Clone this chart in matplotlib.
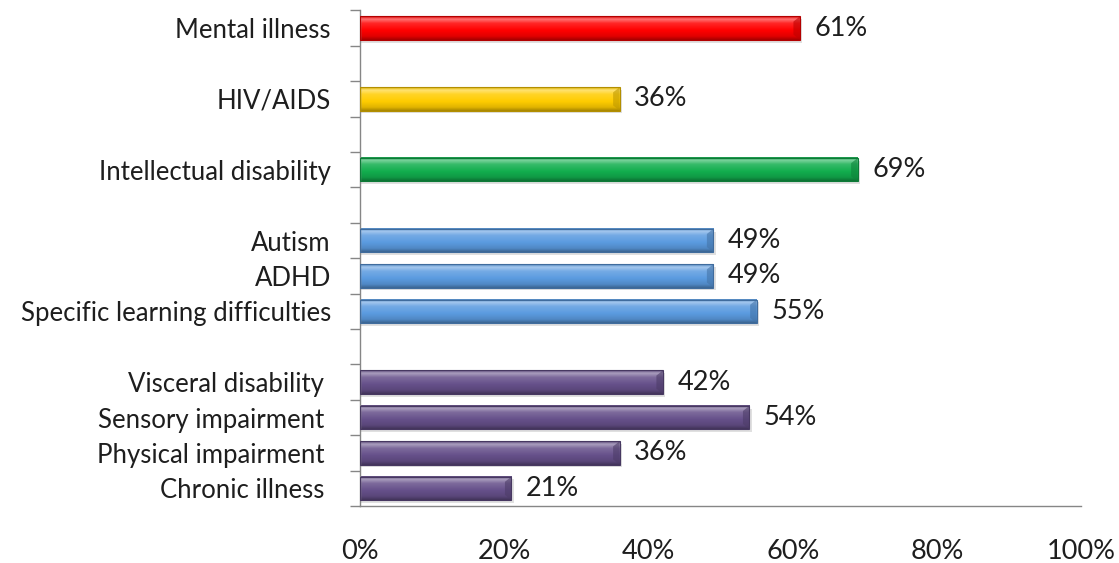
import numpy as np
import matplotlib
matplotlib.use('Agg')
import matplotlib.pyplot as plt
from matplotlib.colors import LinearSegmentedColormap, to_rgb
from matplotlib.patches import Polygon

plt.rcParams['font.family'] = ['Lato', 'DejaVu Sans']

# groups, top to bottom; an empty slot sits between groups
group_labels = [
    ['Mental illness'],
    ['HIV/AIDS'],
    ['Intellectual disability'],
    ['Autism', 'ADHD', 'Specific learning difficulties'],
    ['Visceral disability ', 'Sensory impairment ', 'Physical impairment ', 'Chronic illness '],
]
group_values = [
    [61],
    [36],
    [69],
    [49, 49, 55],
    [42, 54, 36, 21],
]
group_colors = ['#FF0000', '#FFCC00', '#12AE4E', '#5B9BE0', '#66508A']
tick_text = ['0%', '20%', '40%', '60%', '80%', '100%']


def mix(c, other, t):
    c = np.array(to_rgb(c))
    return tuple(c + (np.array(other) - c) * t)


def bar_cmap(c):
    # vertical bevel: dark rim, light highlight near top, darker bottom
    stops = [
        (0.00, mix(c, (0, 0, 0), 0.15)),
        (0.12, mix(c, (1, 1, 1), 0.45)),
        (0.30, mix(c, (1, 1, 1), 0.15)),
        (0.60, c),
        (0.85, mix(c, (0, 0, 0), 0.12)),
        (1.00, mix(c, (0, 0, 0), 0.35)),
    ]
    return LinearSegmentedColormap.from_list('bev', stops)


labels, values, colors, slots = [], [], [], []
pos = 0
for i, (lab, val) in enumerate(zip(group_labels, group_values)):
    if i > 0:
        pos += 1
    for l, v in zip(lab, val):
        labels.append(l)
        values.append(v)
        colors.append(group_colors[i])
        slots.append(pos)
        pos += 1
n_slots = pos

fig = plt.figure(figsize=(11.19, 5.63), dpi=100)
ax = fig.add_axes([0.3217, 0.1012, 0.6445, 0.8803])

h = 0.66
grad = np.linspace(0, 1, 64).reshape(-1, 1)
for y, v, c in zip(slots, values, colors):
    # soft shadow
    ax.barh(y + 0.08, v + 0.3, height=h, left=0, color='#000000', alpha=0.12, zorder=1, linewidth=0)
    ax.imshow(grad, extent=[0, v, y + h / 2, y - h / 2], origin='upper',
              aspect='auto', cmap=bar_cmap(c), zorder=2, interpolation='bilinear')
    # bevelled right end
    b = 0.9
    end = Polygon([(v - b, y - h / 2 + 0.22 * h), (v, y - h / 2), (v, y + h / 2),
                   (v - b, y + h / 2 - 0.22 * h)], closed=True,
                  facecolor=mix(c, (0, 0, 0), 0.25), alpha=0.6, linewidth=0, zorder=2.5)
    ax.add_patch(end)
    ax.barh(y, v, height=h, left=0, facecolor='none',
            edgecolor=mix(c, (0, 0, 0), 0.3), linewidth=0.8, zorder=3)
    ax.text(v + 2.0, y, f'{v}%', va='center', ha='left', fontsize=19.5, color='#1e1e1e')

ax.set_xlim(0, 100)
ax.set_ylim(n_slots - 0.5, -0.5)

ax.set_xticks(np.arange(0, 101, 20))
ax.set_xticklabels(tick_text, fontsize=19.5, color='#1e1e1e')
ax.tick_params(axis='x', length=0, pad=24)

ax.set_yticks(np.arange(-0.5, n_slots, 1))
ax.set_yticklabels([])
ax.tick_params(axis='y', which='major', length=7.5, color='#868686', width=1)
ax.set_yticks(slots, minor=True)
ax.set_yticklabels(labels, minor=True, fontsize=18.5, color='#1e1e1e')
ax.tick_params(axis='y', which='minor', length=0, pad=21)

for s in ['top', 'right']:
    ax.spines[s].set_visible(False)
for s in ['left', 'bottom']:
    ax.spines[s].set_color('#868686')
    ax.spines[s].set_linewidth(1)

fig.savefig('out.png', dpi=100)
